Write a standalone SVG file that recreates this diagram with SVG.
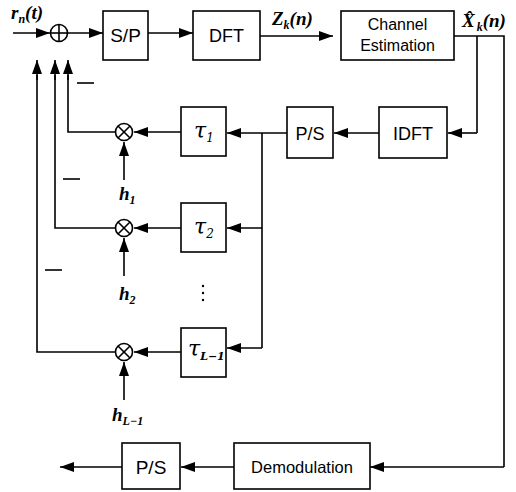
<svg xmlns="http://www.w3.org/2000/svg" width="516" height="492" viewBox="0 0 516 492">
<defs>
<marker id="ah" markerUnits="userSpaceOnUse" markerWidth="15" markerHeight="11" refX="14" refY="5" orient="auto">
<path d="M0,0 L14,5 L0,10 z" fill="#000"/>
</marker>
<style>
.box{fill:#fff;stroke:#000;stroke-width:1.6}
.ln{fill:none;stroke:#000;stroke-width:1.6}
.ar{fill:none;stroke:#000;stroke-width:1.6;marker-end:url(#ah)}
.lbl{font-family:"Liberation Sans",Arial,sans-serif;fill:#000;text-anchor:middle}
.math{font-family:"Liberation Serif","Times New Roman",serif;font-style:italic;font-weight:bold;fill:#000}
.tau{font-family:"DejaVu Serif","Liberation Serif",serif;font-style:italic;fill:#000}
.circ{fill:#fff;stroke:#000;stroke-width:1.6}
</style>
</defs>
<rect width="516" height="492" fill="#fff"/>

<g id="connectors">
<line class="ar" x1="13" y1="33" x2="50" y2="33"/>
<line class="ar" x1="68" y1="33" x2="103" y2="33"/>
<line class="ar" x1="148" y1="33" x2="193" y2="33"/>
<line class="ar" x1="260" y1="36" x2="333" y2="36"/>
<polyline class="ln" points="454,36 504,36 504,467"/>
<line class="ar" x1="504" y1="467" x2="370" y2="467"/>
<polyline class="ln" points="477,36 477,133"/>
<line class="ar" x1="477" y1="133" x2="448" y2="133"/>
<line class="ar" x1="379" y1="133" x2="334" y2="133"/>
<line class="ar" x1="287" y1="133" x2="227" y2="133"/>
<line class="ln" x1="262" y1="133" x2="262" y2="348"/>
<line class="ar" x1="262" y1="228" x2="227" y2="228"/>
<line class="ar" x1="262" y1="348" x2="227" y2="348"/>
<line class="ar" x1="181" y1="132" x2="134" y2="132"/>
<line class="ar" x1="181" y1="228" x2="134" y2="228"/>
<line class="ar" x1="181" y1="352" x2="134" y2="352"/>
<polyline class="ln" points="115,132 68,132 68,75"/>
<line class="ar" x1="68" y1="80" x2="68" y2="60"/>
<polyline class="ln" points="115,228 55,228 55,75"/>
<line class="ar" x1="55" y1="80" x2="55" y2="60"/>
<polyline class="ln" points="115,352 37,352 37,75"/>
<line class="ar" x1="37" y1="80" x2="37" y2="60"/>
<line class="ar" x1="124" y1="180" x2="124" y2="142"/>
<line class="ar" x1="124" y1="276" x2="124" y2="238"/>
<line class="ar" x1="124" y1="400" x2="124" y2="362"/>
<line class="ar" x1="234" y1="467" x2="181" y2="467"/>
<line class="ar" x1="122" y1="467" x2="60" y2="467"/>
</g>

<g id="minus-signs">
<line class="ln" x1="77" y1="83" x2="94" y2="83"/>
<line class="ln" x1="63" y1="179" x2="80" y2="179"/>
<line class="ln" x1="45" y1="270" x2="62" y2="270"/>
</g>

<g id="input-label">
<text class="math" x="11" y="19" font-size="19">r<tspan font-size="12" dy="4">n</tspan><tspan dy="-4">(t)</tspan></text>
</g>

<g id="adder">
<circle class="circ" cx="59" cy="33" r="8.5"/>
<line class="ln" x1="50.5" y1="33" x2="67.5" y2="33"/>
<line class="ln" x1="59" y1="24.5" x2="59" y2="41.5"/>
</g>

<g id="sp">
<rect class="box" x="103" y="11" width="45" height="49"/>
<text class="lbl" x="125.5" y="42" font-size="19">S/P</text>
</g>

<g id="dft">
<rect class="box" x="193" y="11" width="67" height="49"/>
<text class="lbl" x="226.5" y="42" font-size="18">DFT</text>
</g>

<g id="zk-label">
<text class="math" x="272" y="25" font-size="19">Z<tspan font-size="12" dy="4">k</tspan><tspan dy="-4">(n)</tspan></text>
</g>

<g id="channel-estimation">
<rect class="box" x="341" y="11" width="113" height="49"/>
<text class="lbl" x="397.5" y="30" font-size="16">Channel</text>
<text class="lbl" x="397.5" y="51" font-size="16">Estimation</text>
</g>

<g id="xk-label">
<text class="math" x="462" y="27" font-size="19">X̂<tspan font-size="12" dy="4" dx="2">k</tspan><tspan dy="-4">(n)</tspan></text>
</g>

<g id="idft">
<rect class="box" x="379" y="107" width="68" height="51"/>
<text class="lbl" x="413" y="140" font-size="18">IDFT</text>
</g>

<g id="ps-top">
<rect class="box" x="287" y="107" width="46" height="51"/>
<text class="lbl" x="310" y="140" font-size="18">P/S</text>
</g>

<g id="tau1">
<rect class="box" x="181" y="107" width="45" height="49"/>
<text class="tau" x="194" y="138" font-size="22">τ<tspan font-size="12" dy="4">1</tspan></text>
</g>

<g id="tau2">
<rect class="box" x="181" y="203" width="45" height="49"/>
<text class="tau" x="194" y="234" font-size="22">τ<tspan font-size="12" dy="4">2</tspan></text>
</g>

<g id="tauL1">
<rect class="box" x="181" y="328" width="45" height="49"/>
<text class="tau" x="188" y="356" font-size="22">τ<tspan font-size="11" dy="4" font-weight="bold">L−1</tspan></text>
</g>

<g id="dots">
<circle cx="203" cy="286" r="1.2" fill="#000"/>
<circle cx="203" cy="293" r="1.2" fill="#000"/>
<circle cx="203" cy="300" r="1.2" fill="#000"/>
</g>

<g id="mult1">
<circle class="circ" cx="124" cy="132" r="8.5"/>
<line class="ln" x1="118" y1="126" x2="130" y2="138"/>
<line class="ln" x1="130" y1="126" x2="118" y2="138"/>
</g>

<g id="mult2">
<circle class="circ" cx="124" cy="228" r="8.5"/>
<line class="ln" x1="118" y1="222" x2="130" y2="234"/>
<line class="ln" x1="130" y1="222" x2="118" y2="234"/>
</g>

<g id="mult3">
<circle class="circ" cx="124" cy="352" r="8.5"/>
<line class="ln" x1="118" y1="346" x2="130" y2="358"/>
<line class="ln" x1="130" y1="346" x2="118" y2="358"/>
</g>

<g id="h-labels">
<text class="math" x="119" y="200" font-size="19">h<tspan font-size="12" dy="4">1</tspan></text>
<text class="math" x="119" y="300" font-size="19">h<tspan font-size="12" dy="4">2</tspan></text>
<text class="math" x="112" y="421" font-size="19">h<tspan font-size="12" dy="4">L−1</tspan></text>
</g>

<g id="demodulation">
<rect class="box" x="234" y="443" width="136" height="46"/>
<text class="lbl" x="302" y="473" font-size="16.5">Demodulation</text>
</g>

<g id="ps-bottom">
<rect class="box" x="122" y="443" width="58" height="46"/>
<text class="lbl" x="151" y="474" font-size="19">P/S</text>
</g>
</svg>
